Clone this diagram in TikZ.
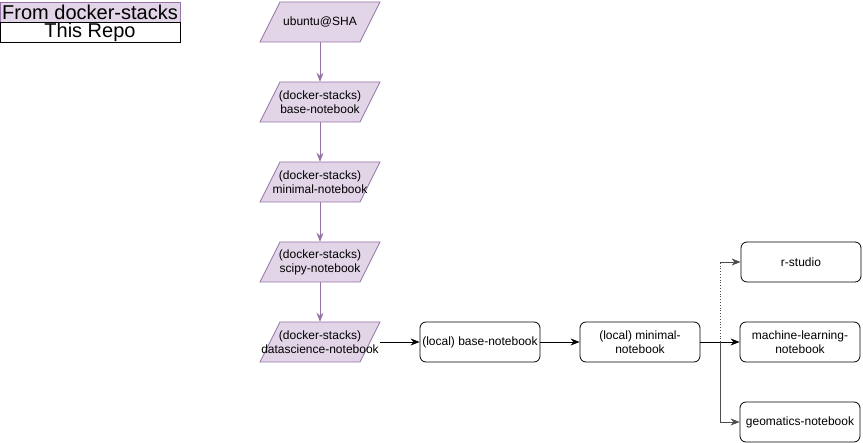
\documentclass[tikz,border=0pt]{standalone}
\usepackage{fontspec}
\setmainfont{Liberation Sans}
\usepackage{tikz}
\usetikzlibrary{arrows.meta,positioning}
\definecolor{stackfill}{HTML}{E1D5E7}
\definecolor{stackline}{HTML}{9673A6}
\tikzset{
    stack shape/.style={fill=stackfill, draw=stackline, line width=0.8pt},
    stack/.style={rectangle, minimum width=100pt, minimum height=40pt, inner sep=0pt, align=center},
    repo/.style={rectangle, rounded corners=6pt, draw=black, line width=0.8pt,
        minimum width=120pt, minimum height=40pt, inner sep=1pt, align=center, fill=white},
    legendbox/.style={rectangle, minimum width=180pt, minimum height=20pt, inner sep=0pt,
        font=\fontsize{20}{22}\selectfont, line width=0.8pt},
    arr/.style={-{Stealth[length=9pt,width=7pt]}, line width=0.8pt},
    purplearr/.style={arr, stackline},
}
\tikzstyle{every node}=[font=\fontsize{12}{14}\selectfont]

\begin{document}
\begin{tikzpicture}[x=1pt,y=-1pt]
        \useasboundingbox (0,0) rectangle (863,443);
        % legend
        \node[legendbox, fill=stackfill, draw=stackline] (fromstacks) at (90,12) {From docker-stacks};
        \node[legendbox, draw=black, fill=white] (thisrepo) at (90,32) {This Repo};
        % docker-stacks images
        \foreach \y in {22,102,182,262,342}
            \draw[stack shape] (260,\y+20) -- (280,\y-20) -- (380,\y-20) -- (360,\y+20) -- cycle;
        \node[stack] (ubuntu) at (320,22) {ubuntu@SHA};
        \node[stack] (base) at (320,102) {(docker-stacks)\\base-notebook};
        \node[stack] (minimal) at (320,182) {(docker-stacks)\\minimal-notebook};
        \node[stack] (scipy) at (320,262) {(docker-stacks)\\scipy-notebook};
        \node[stack] (datascience) at (320,342) {(docker-stacks)\\datascience-notebook};
        % local images
        \node[repo] (localbase) at (480,342) {(local) base-notebook};
        \node[repo] (localminimal) at (640,342) {(local) minimal-\\notebook};
        \node[repo] (rstudio) at (801,262) {r-studio};
        \node[repo] (ml) at (800,342) {machine-learning-\\notebook};
        \node[repo] (geo) at (800,422) {geomatics-notebook};
        \coordinate (split) at (720,342);
        \coordinate (up) at (720,262);
        \coordinate (down) at (720,422);
        \coordinate (dsout) at (380,342);
        % connectors
        \draw[purplearr] (ubuntu) -- (base);
        \draw[purplearr] (base) -- (minimal);
        \draw[purplearr] (minimal) -- (scipy);
        \draw[purplearr] (scipy) -- (datascience);
        \draw[arr] (dsout) -- (localbase);
        \draw[arr] (localbase) -- (localminimal);
        \draw[arr] (localminimal) -- (ml);
        \draw[black!70, line width=0.8pt, dotted] (split) -- (up);
        \draw[arr, black!70] (up) -- (rstudio);
        \draw[arr, black!70] (split) -- (down) -- (geo);
\end{tikzpicture}
\end{document}
